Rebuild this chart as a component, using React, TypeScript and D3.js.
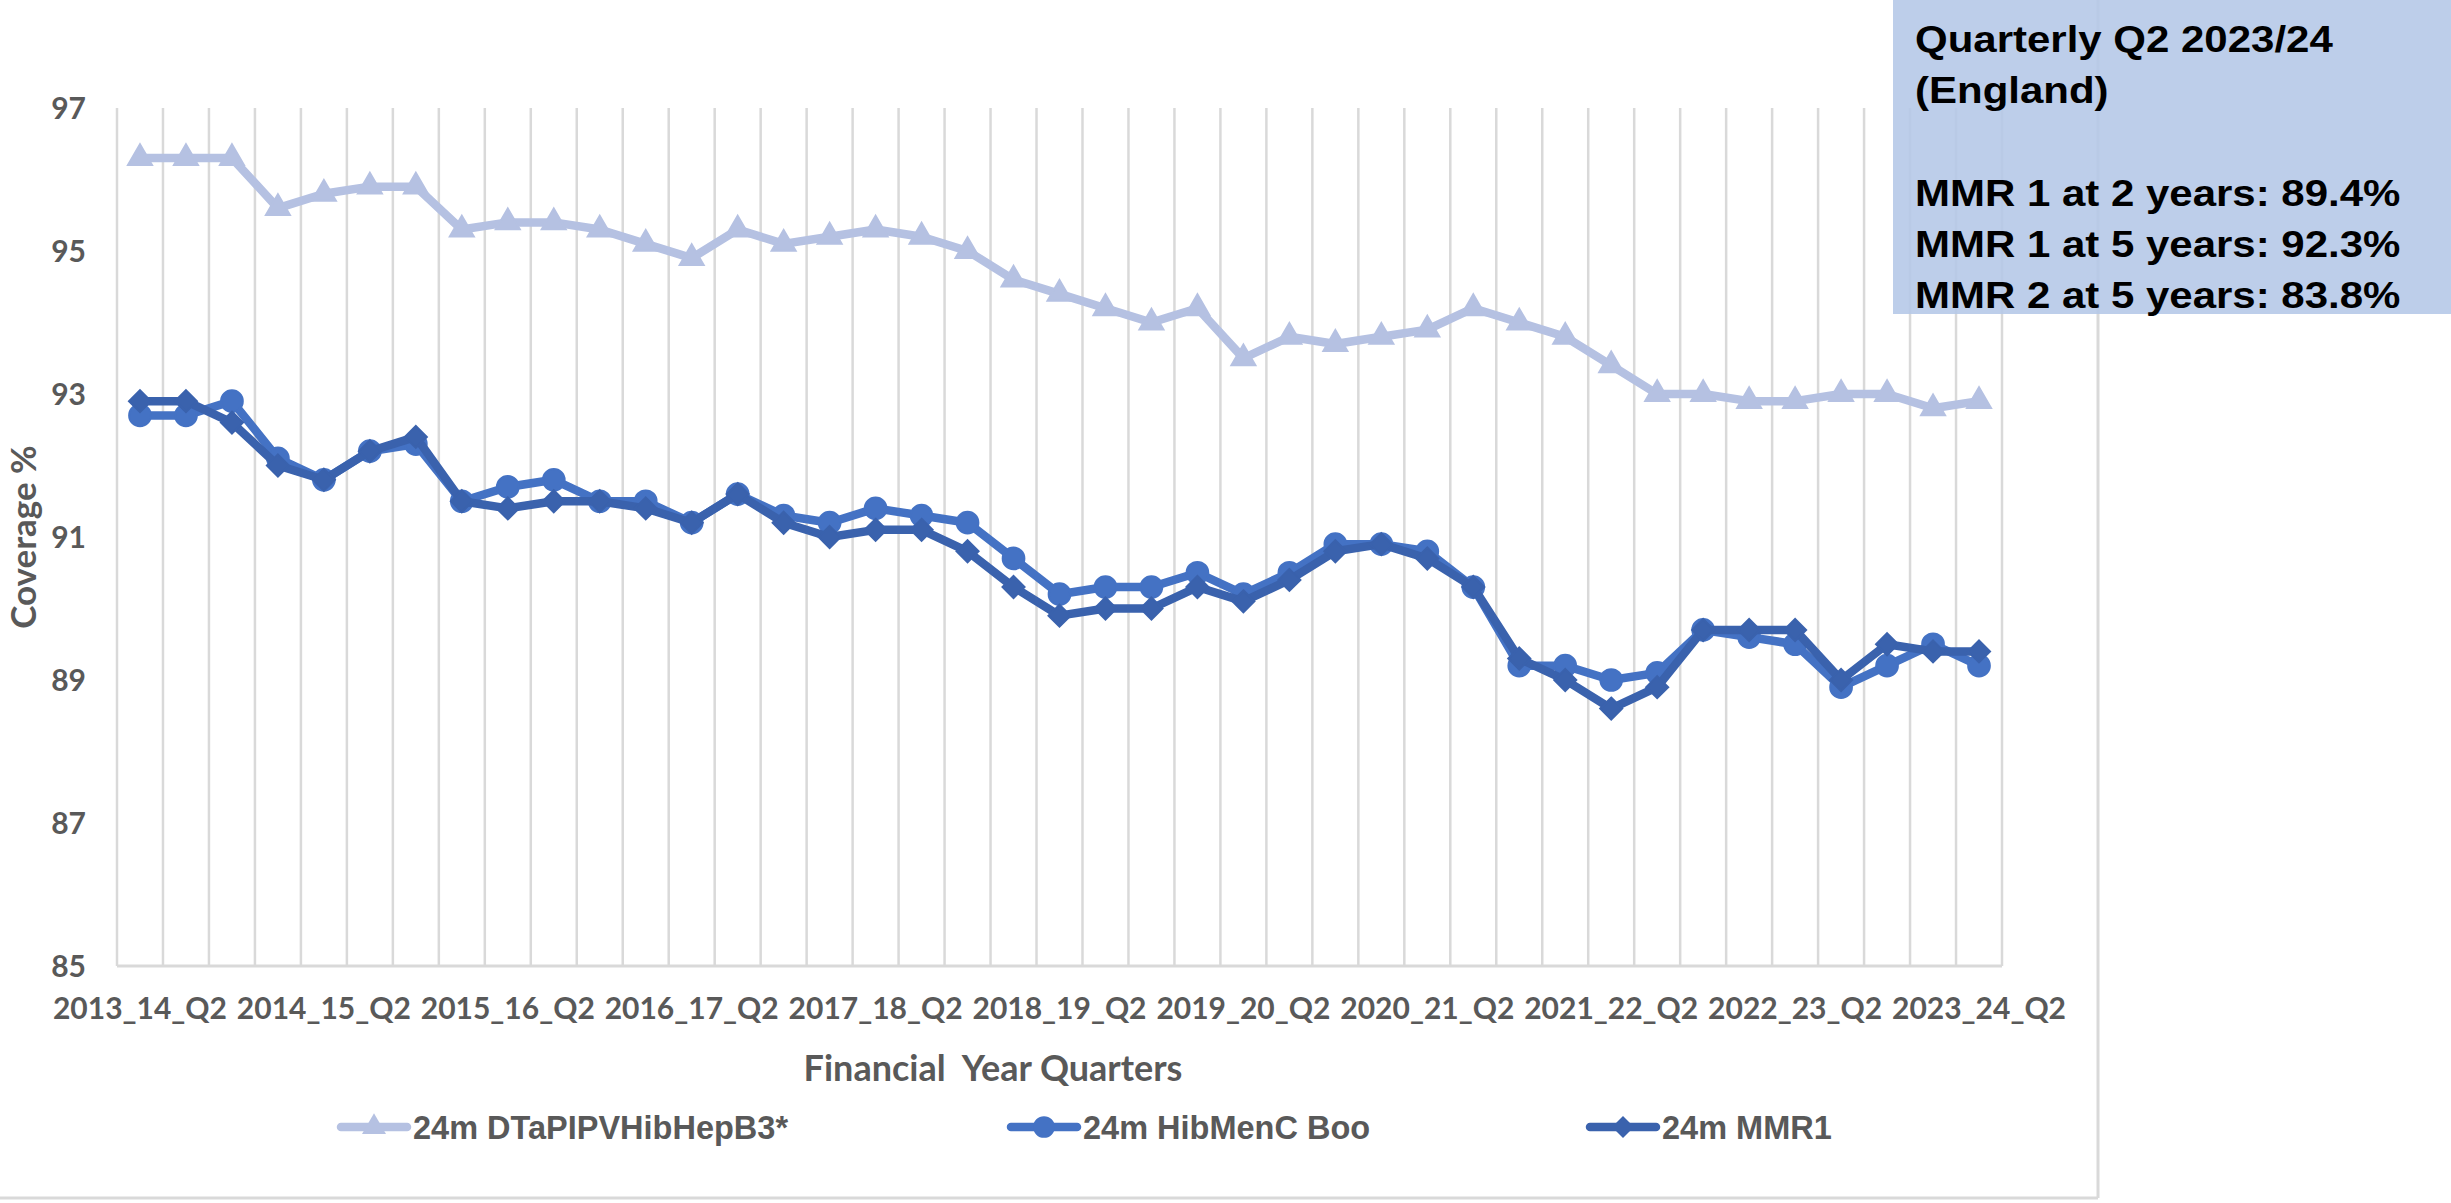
import * as d3 from "d3";
import React from "react";

// quarters shown on the category axis
const categories = [
  "2013_14_Q2", "2013_14_Q3", "2013_14_Q4", "2014_15_Q1",
  "2014_15_Q2", "2014_15_Q3", "2014_15_Q4", "2015_16_Q1",
  "2015_16_Q2", "2015_16_Q3", "2015_16_Q4", "2016_17_Q1",
  "2016_17_Q2", "2016_17_Q3", "2016_17_Q4", "2017_18_Q1",
  "2017_18_Q2", "2017_18_Q3", "2017_18_Q4", "2018_19_Q1",
  "2018_19_Q2", "2018_19_Q3", "2018_19_Q4", "2019_20_Q1",
  "2019_20_Q2", "2019_20_Q3", "2019_20_Q4", "2020_21_Q1",
  "2020_21_Q2", "2020_21_Q3", "2020_21_Q4", "2021_22_Q1",
  "2021_22_Q2", "2021_22_Q3", "2021_22_Q4", "2022_23_Q1",
  "2022_23_Q2", "2022_23_Q3", "2022_23_Q4", "2023_24_Q1",
  "2023_24_Q2",
];

const labelledQuarters = [
  "2013_14_Q2", "2014_15_Q2", "2015_16_Q2", "2016_17_Q2", "2017_18_Q2",
  "2018_19_Q2", "2019_20_Q2", "2020_21_Q2", "2021_22_Q2", "2022_23_Q2",
  "2023_24_Q2",
];

const dtapValues = [
  96.3, 96.3, 96.3, 95.6, 95.8, 95.9, 95.9, 95.3, 95.4, 95.4,
  95.3, 95.1, 94.9, 95.3, 95.1, 95.2, 95.3, 95.2, 95.0, 94.6,
  94.4, 94.2, 94.0, 94.2, 93.5, 93.8, 93.7, 93.8, 93.9, 94.2,
  94.0, 93.8, 93.4, 93.0, 93.0, 92.9, 92.9, 93.0, 93.0, 92.8,
  92.9,
];

const hibMenCValues = [
  92.7, 92.7, 92.9, 92.1, 91.8, 92.2, 92.3, 91.5, 91.7, 91.8,
  91.5, 91.5, 91.2, 91.6, 91.3, 91.2, 91.4, 91.3, 91.2, 90.7,
  90.2, 90.3, 90.3, 90.5, 90.2, 90.5, 90.9, 90.9, 90.8, 90.3,
  89.2, 89.2, 89.0, 89.1, 89.7, 89.6, 89.5, 88.9, 89.2, 89.5,
  89.2,
];

const mmr1Values = [
  92.9, 92.9, 92.6, 92.0, 91.8, 92.2, 92.4, 91.5, 91.4, 91.5,
  91.5, 91.4, 91.2, 91.6, 91.2, 91.0, 91.1, 91.1, 90.8, 90.3,
  89.9, 90.0, 90.0, 90.3, 90.1, 90.4, 90.8, 90.9, 90.7, 90.3,
  89.3, 89.0, 88.6, 88.9, 89.7, 89.7, 89.7, 89.0, 89.5, 89.4,
  89.4,
];

const yTicks = [85, 87, 89, 91, 93, 95, 97];

const seriesNames = ["24m DTaPIPVHibHepB3*", "24m HibMenC Boo", "24m MMR1"];

const boxLines = [
  "Quarterly Q2 2023/24",
  "(England)",
  "",
  "MMR 1 at 2 years: 89.4%",
  "MMR 1 at 5 years: 92.3%",
  "MMR 2 at 5 years: 83.8%",
];

const W = 2451;
const H = 1203;
const grey = "#595959";
const gridColor = "#d9d9d9";
const calibriLike = "Lato, 'Open Sans', sans-serif";
const arialLike = "'Liberation Sans', Arial, sans-serif";

const series = [
  { name: seriesNames[0], values: dtapValues, color: "#b5c1e2", symbol: d3.symbolTriangle, size: 250 },
  { name: seriesNames[1], values: hibMenCValues, color: "#4472c4", symbol: d3.symbolCircle, size: 370 },
  { name: seriesNames[2], values: mmr1Values, color: "#3a62ad", symbol: d3.symbolDiamond2, size: 310 },
];

export default function App() {
  const x = d3.scaleBand<string>().domain(categories).range([117, 2002]);
  const y = d3.scaleLinear().domain([85, 97]).range([966, 108]);
  const cx = (c: string) => (x(c) as number) + x.bandwidth() / 2;

  const line = d3
    .line<number>()
    .x((_, i) => cx(categories[i]))
    .y((d) => y(d));

  // boundaries between categories (excel "between tick marks")
  const gridXs = categories.map((c) => x(c) as number).concat([x.range()[1]]);

  // legend item positions
  const legendX = [341, 1011, 1590];
  const legendY = 1127;

  return (
    <svg
      width={W}
      height={H}
      style={{ position: "absolute", left: 0, top: 0, background: "#fff" }}
    >
      <rect x={0} y={0} width={W} height={H} fill="#fff" />

      {/* chart area border */}
      <line x1={2098} y1={0} x2={2098} y2={1198} stroke={gridColor} strokeWidth={3} />
      <line x1={0} y1={1198} x2={2098} y2={1198} stroke={gridColor} strokeWidth={3} />

      {/* vertical gridlines */}
      {gridXs.map((gx, i) => (
        <line key={i} x1={gx} x2={gx} y1={y(97)} y2={y(85)} stroke={gridColor} strokeWidth={2.5} />
      ))}
      <line x1={x.range()[0]} x2={x.range()[1]} y1={y(85)} y2={y(85)} stroke={gridColor} strokeWidth={3} />

      {/* y ticks */}
      {yTicks.map((t) => (
        <text
          key={t}
          x={86}
          y={y(t) + 10.5}
          textAnchor="end"
          fontFamily={calibriLike}
          fontWeight={700}
          fontSize={30}
          fill={grey}
        >
          {t}
        </text>
      ))}
      <text
        transform={`translate(36, 537) rotate(-90)`}
        textAnchor="middle"
        fontFamily={calibriLike}
        fontWeight={700}
        fontSize={35}
        fill={grey}
      >
        Coverage %
      </text>

      {/* x ticks */}
      {labelledQuarters.map((c) => (
        <text
          key={c}
          x={cx(c)}
          y={1019}
          textAnchor="middle"
          fontFamily={calibriLike}
          fontWeight={700}
          fontSize={30}
          fill={grey}
        >
          {c}
        </text>
      ))}
      <text
        x={993}
        y={1081}
        textAnchor="middle"
        fontFamily={calibriLike}
        fontWeight={700}
        fontSize={36}
        fill={grey}
        style={{ whiteSpace: "pre" }}
      >
        {"Financial  Year Quarters"}
      </text>

      {/* series */}
      {series.map((s) => (
        <g key={s.name}>
          <path
            d={line(s.values) || ""}
            fill="none"
            stroke={s.color}
            strokeWidth={8.5}
            strokeLinejoin="round"
          />
          {s.values.map((v, i) => (
            <path
              key={i}
              transform={`translate(${cx(categories[i])},${y(v)})`}
              d={d3.symbol().type(s.symbol).size(s.size)() || ""}
              fill={s.color}
              stroke={s.color}
              strokeWidth={2}
            />
          ))}
        </g>
      ))}

      {/* legend */}
      {series.map((s, i) => (
        <g key={s.name} transform={`translate(${legendX[i]},${legendY})`}>
          <line x1={0} x2={66} y1={0} y2={0} stroke={s.color} strokeWidth={8.5} strokeLinecap="round" />
          <path
            transform="translate(33,0)"
            d={d3.symbol().type(s.symbol).size(s.size)() || ""}
            fill={s.color}
          />
          <text
            x={72}
            y={11.5}
            fontFamily={arialLike}
            fontWeight={700}
            fontSize={32.5}
            fill={grey}
          >
            {s.name}
          </text>
        </g>
      ))}

      {/* annotation box */}
      <rect x={1893} y={0} width={W - 1893} height={314} fill="#b4c7e7" fillOpacity={0.88} />
      <g transform="translate(1915,0) scale(1.12,1)">
        {boxLines.map((t, i) => (
          <text
            key={i}
            x={0}
            y={52 + i * 51.3}
            fontFamily={arialLike}
            fontWeight={700}
            fontSize={37.5}
            fill="#000"
          >
            {t}
          </text>
        ))}
      </g>
    </svg>
  );
}
